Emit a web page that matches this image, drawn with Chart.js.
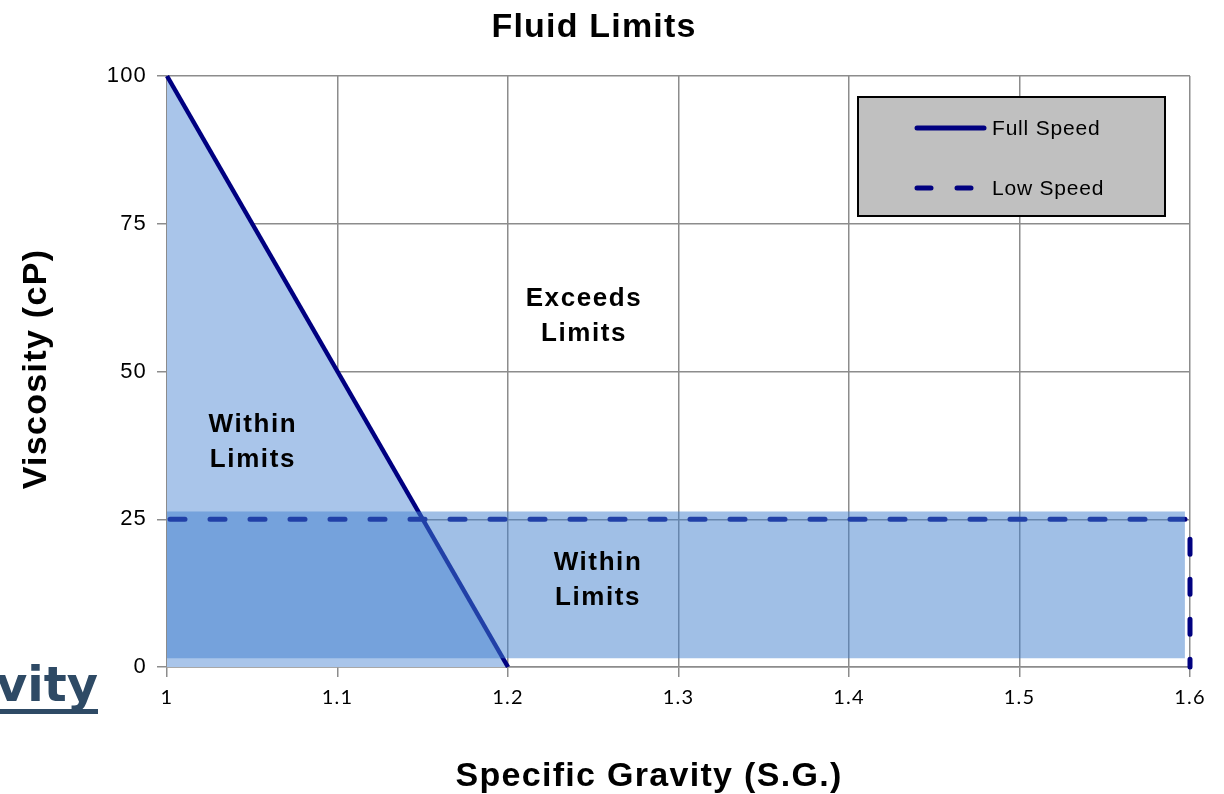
<!DOCTYPE html>
<html lang="en">
<head>
<meta charset="UTF-8" />
<title>Fluid Limits</title>
<script src="https://cdn.jsdelivr.net/npm/chart.js@4"></script>
<style>
  html, body { margin: 0; padding: 0; background: #fff; }
  #wrap { position: relative; width: 1224px; height: 794px; overflow: hidden; }
  #fluidChart { position: absolute; left: 0; top: 0; }
  /* cut-off slide heading left of the chart */
  #crop { position: absolute; left: 0; top: 656px; width: 98px; height: 74px; overflow: hidden; }
  #crop span {
    position: absolute; right: 0; top: 0;
    font: bold 48px "DejaVu Sans"; color: #2e4a65; white-space: nowrap;
    text-decoration: underline; text-decoration-thickness: 5px;
    text-underline-offset: 8px; text-decoration-skip-ink: none;
  }
</style>
</head>
<body>
<div id="wrap">
  <canvas id="fluidChart" width="1224" height="794"></canvas>
  <div id="crop"><span>Gravity</span></div>
</div>

<script>
// values
const xTickLabels = ['1', '1.1', '1.2', '1.3', '1.4', '1.5', '1.6'];
const fullSpeedX = [1, 1.2];
const fullSpeedY = [100, 0];
const lowSpeedX = [1, 1.6, 1.6];
const lowSpeedY = [25, 25, 0];
// the shaded "within limits" band of the low speed case
const bandX = [1, 1.597];
const bandTop = 26.3;
const bandBottom = 1.5;
// text labels inside the plot (data coordinates)
const noteText = [['Exceeds', 'Limits'], ['Within', 'Limits'], ['Within', 'Limits']];
const noteX = [1.2446, 1.0504, 1.2528];
const noteY = [59.3, 38.0, 14.7];

const NAVY = '#000080';
const GRID = '#8c8c8c';

const pts = (xs, ys) => xs.map((x, i) => ({ x, y: ys[i] }));

const decor = {
  id: 'decor',
  beforeDraw(chart) {
    const ctx = chart.ctx;
    ctx.save();
    ctx.fillStyle = '#fff';
    ctx.fillRect(0, 0, chart.width, chart.height);
    ctx.restore();
    ctx.letterSpacing = '1.2px';
  },
  afterDraw(chart) {
    const ctx = chart.ctx;
    const { x, y } = chart.scales;
    ctx.save();
    ctx.fillStyle = '#000';
    ctx.textAlign = 'center';
    ctx.textBaseline = 'alphabetic';

    ctx.letterSpacing = '1.2px';
    ctx.font = 'bold 34px "Liberation Sans"';
    ctx.fillText('Fluid Limits', 594, 37);

    ctx.letterSpacing = '1.3px';
    ctx.fillText('Specific Gravity (S.G.)', 649, 786);
    ctx.save();
    ctx.translate(46, 369);
    ctx.rotate(-Math.PI / 2);
    ctx.fillText('Viscosity (cP)', 0, 0);
    ctx.restore();

    // notes
    ctx.font = 'bold 26px "Liberation Sans"';
    ctx.textBaseline = 'middle';
    ctx.letterSpacing = '1.6px';
    noteText.forEach((lines, i) => {
      const px = x.getPixelForValue(noteX[i]);
      const py = y.getPixelForValue(noteY[i]);
      ctx.fillText(lines[0], px, py - 17.5);
      ctx.fillText(lines[1], px, py + 17.5);
    });

    // legend box
    const bx = 858, by = 97, bw = 307, bh = 119;
    ctx.fillStyle = '#c0c0c0';
    ctx.fillRect(bx, by, bw, bh);
    ctx.strokeStyle = '#000';
    ctx.lineWidth = 2;
    ctx.strokeRect(bx, by, bw, bh);
    const entries = chart.data.datasets.filter(d => d.label);
    ctx.letterSpacing = '0.8px';
    entries.forEach((d, i) => {
      const ly = 128 + i * 60;
      ctx.beginPath();
      ctx.strokeStyle = d.borderColor;
      ctx.lineWidth = 5;
      ctx.lineCap = 'round';
      ctx.setLineDash(d.borderDash && d.borderDash.length ? [14, 26] : []);
      ctx.moveTo(917, ly);
      ctx.lineTo(984, ly);
      ctx.stroke();
      ctx.setLineDash([]);
      ctx.fillStyle = '#000';
      ctx.textAlign = 'left';
      ctx.font = '21px "Liberation Sans"';
      ctx.fillText(d.label, 992, ly + 1);
    });
    ctx.restore();
  }
};

new Chart(document.getElementById('fluidChart'), {
  type: 'scatter',
  data: {
    datasets: [
      {
        label: '',
        data: pts(bandX, [bandTop, bandTop]),
        showLine: true,
        borderWidth: 0,
        pointRadius: 0,
        backgroundColor: 'rgba(65,127,205,0.5)',
        fill: { value: bandBottom },
        order: 0
      },
      {
        label: 'Full Speed',
        data: pts(fullSpeedX, fullSpeedY),
        showLine: true,
        borderColor: NAVY,
        borderWidth: 4.5,
        pointRadius: 0,
        backgroundColor: '#a9c5ea',
        fill: 'origin',
        clip: false,
        order: 2
      },
      {
        label: 'Low Speed',
        data: pts(lowSpeedX, lowSpeedY),
        showLine: true,
        borderColor: NAVY,
        borderWidth: 5,
        borderDash: [15, 25],
        borderDashOffset: -3,
        borderCapStyle: 'round',
        pointRadius: 0,
        fill: false,
        clip: false,
        order: 1
      }
    ]
  },
  options: {
    responsive: false,
    animation: false,
    devicePixelRatio: 1,
    layout: { padding: { left: 0, right: 34, top: 76, bottom: 0 } },
    plugins: {
      legend: { display: false },
      title: { display: false },
      tooltip: { enabled: false }
    },
    scales: {
      x: {
        type: 'linear',
        min: 1,
        max: 1.6,
        afterFit: s => { s.height = 127; },
        ticks: {
          stepSize: 0.1,
          callback: (v, i) => xTickLabels[i],
          color: '#000',
          font: { family: 'Lato', size: 20 },
          padding: 9,
          maxRotation: 0
        },
        grid: { color: GRID, lineWidth: 1.5, tickLength: 10 },
        border: { color: GRID, width: 1.5 }
      },
      y: {
        min: 0,
        max: 100,
        afterFit: s => { s.width = 167; },
        ticks: {
          stepSize: 25,
          color: '#000',
          font: { family: 'Liberation Sans', size: 22 },
          padding: 10
        },
        grid: { color: GRID, lineWidth: 1.5, tickLength: 10 },
        border: { color: GRID, width: 1.5 }
      }
    }
  },
  plugins: [decor]
});
</script>
</body>
</html>
